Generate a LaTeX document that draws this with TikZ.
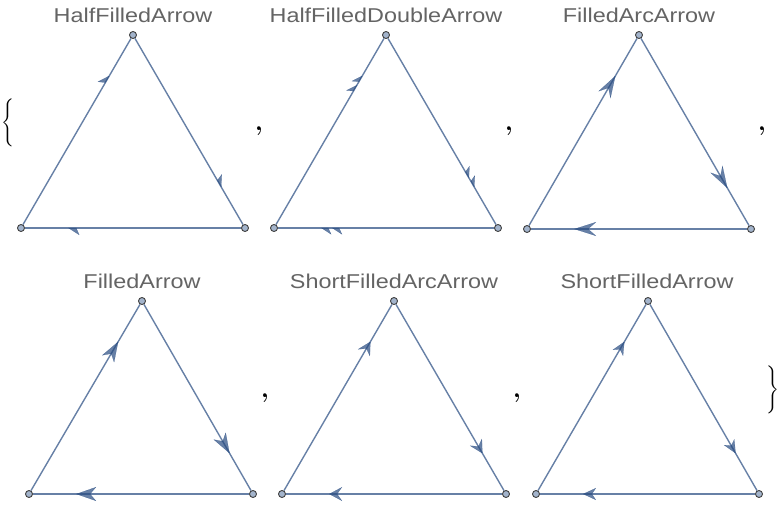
\documentclass[tikz,border=0pt]{standalone}
\usepackage{fontspec}
\usepackage{graphicx}
\newfontfamily\titlefont[FakeStretch=1.17]{Liberation Sans}
\usetikzlibrary{arrows.meta, decorations.markings}

\definecolor{edgeblue}{RGB}{38,74,128}
\definecolor{vertfill}{RGB}{163,180,204}
\definecolor{titlegray}{RGB}{100,100,100}

\tikzset{
    vert/.style={circle, inner sep=0pt, minimum size=7pt, fill=vertfill, draw=black!75, line width=0.9pt},
    edge/.style={draw=edgeblue, line width=1.4pt, opacity=0.7},
    headat/.style={postaction={decorate}, decoration={markings, mark=at position 0.8 with {\arrow{#1}}}},
    title/.style={text=titlegray, font=\titlefont\fontsize{20}{24}\selectfont, anchor=base, inner sep=0pt},
    listcomma/.style={font=\bfseries\fontsize{26}{30}\selectfont, anchor=base, inner sep=0pt},
    listbrace/.style={inner sep=0pt},
    halfhead/.style={edge, headat={Stealth[harpoon, length=11pt, width=14pt, inset=3pt, line width=0.2pt]}},
    halfdouble/.style={edge, postaction={decorate}, decoration={markings,
        mark=at position 0.75 with {\arrow{Stealth[harpoon, length=10pt, width=13pt, inset=3pt, line width=0.2pt]}},
        mark=at position 0.8 with {\arrow{Stealth[harpoon, length=10pt, width=13pt, inset=3pt, line width=0.2pt]}}}},
    archead/.style={edge, headat={Stealth[length=22pt, width=14pt, inset=8pt, line width=0.2pt]}},
    fullhead/.style={edge, headat={Stealth[length=20pt, width=14pt, inset=6pt, line width=0.2pt]}},
    shortarc/.style={edge, headat={Stealth[length=13pt, width=14pt, inset=5pt, line width=0.2pt]}},
    shorthead/.style={edge, headat={Stealth[length=13pt, width=12pt, inset=4pt, line width=0.2pt]}}
}

\begin{document}
\begin{tikzpicture}[x=1pt, y=-1pt]
    \useasboundingbox (0,0) rectangle (783,513);
    \node[listbrace] (open) at (8,123) {\resizebox*{!}{48pt}{$\Bigg\{$}};
    \begin{scope}[shift={(133,35)}]
        \node[title] (n1) at (0,-12) {HalfFilledArrow};
        \node[vert] (t1) at (0,0) {};
        \node[vert] (l1) at (-112,193) {};
        \node[vert] (r1) at (112,193) {};
        \draw[halfhead] (l1) -- (t1);
        \draw[halfhead] (t1) -- (r1);
        \draw[halfhead] (r1) -- (l1);
    \end{scope}
    \node[listcomma] (c1) at (259,131) {,};
    \begin{scope}[shift={(386,35)}]
        \node[title] (n2) at (0,-12) {HalfFilledDoubleArrow};
        \node[vert] (t2) at (0,0) {};
        \node[vert] (l2) at (-112,193) {};
        \node[vert] (r2) at (112,193) {};
        \draw[halfdouble] (l2) -- (t2);
        \draw[halfdouble] (t2) -- (r2);
        \draw[halfdouble] (r2) -- (l2);
    \end{scope}
    \node[listcomma] (c2) at (509,131) {,};
    \begin{scope}[shift={(639,35)}]
        \node[title] (n3) at (0,-12) {FilledArcArrow};
        \node[vert] (t3) at (0,0) {};
        \node[vert] (l3) at (-112,194) {};
        \node[vert] (r3) at (112,194) {};
        \draw[archead] (l3) -- (t3);
        \draw[archead] (t3) -- (r3);
        \draw[archead] (r3) -- (l3);
    \end{scope}
    \node[listcomma] (c3) at (762,131) {,};
    \begin{scope}[shift={(142,301)}]
        \node[title] (n4) at (0,-13) {FilledArrow};
        \node[vert] (t4) at (0,0) {};
        \node[vert] (l4) at (-113,193) {};
        \node[vert] (r4) at (111,193) {};
        \draw[fullhead] (l4) -- (t4);
        \draw[fullhead] (t4) -- (r4);
        \draw[fullhead] (r4) -- (l4);
    \end{scope}
    \node[listcomma] (c4) at (265,397) {,};
    \begin{scope}[shift={(394,301)}]
        \node[title] (n5) at (0,-13) {ShortFilledArcArrow};
        \node[vert] (t5) at (0,0) {};
        \node[vert] (l5) at (-112,193) {};
        \node[vert] (r5) at (112,193) {};
        \draw[shortarc] (l5) -- (t5);
        \draw[shortarc] (t5) -- (r5);
        \draw[shortarc] (r5) -- (l5);
    \end{scope}
    \node[listcomma] (c5) at (517,397) {,};
    \begin{scope}[shift={(648,301)}]
        \node[title] (n6) at (-1,-13) {ShortFilledArrow};
        \node[vert] (t6) at (0,0) {};
        \node[vert] (l6) at (-112,193) {};
        \node[vert] (r6) at (111,193) {};
        \draw[shorthead] (l6) -- (t6);
        \draw[shorthead] (t6) -- (r6);
        \draw[shorthead] (r6) -- (l6);
    \end{scope}
    \node[listbrace] (close) at (773,390) {\resizebox*{!}{48pt}{$\Bigg\}$}};
\end{tikzpicture}
\end{document}
